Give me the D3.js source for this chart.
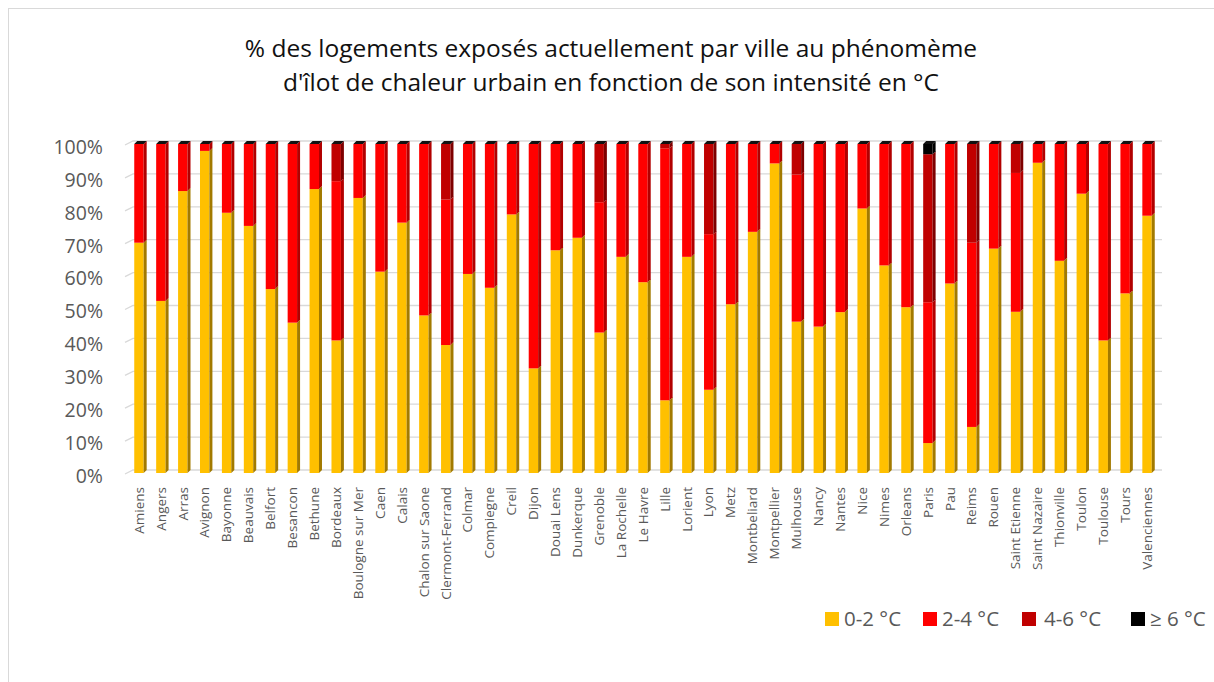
<!DOCTYPE html>
<html>
<head>
<meta charset="utf-8">
<script src="https://cdn.jsdelivr.net/npm/d3@7"></script>
<style>
  body { margin: 0; background: #fff; }
  svg { display: block; font-family: "Open Sans", sans-serif; }
</style>
</head>
<body>
<svg width="1214" height="682"></svg>
<script>

let cities = ["Amiens", "Angers", "Arras", "Avignon", "Bayonne", "Beauvais", "Belfort", "Besancon",
    "Bethune", "Bordeaux", "Boulogne sur Mer", "Caen", "Calais", "Chalon sur Saone", "Clermont-Ferrand",
    "Colmar", "Compiegne", "Creil", "Dijon", "Douai Lens", "Dunkerque", "Grenoble", "La Rochelle",
    "Le Havre", "Lille", "Lorient", "Lyon", "Metz", "Montbeliard", "Montpellier", "Mulhouse", "Nancy",
    "Nantes", "Nice", "Nimes", "Orleans", "Paris", "Pau", "Reims", "Rouen", "Saint Etienne",
    "Saint Nazaire", "Thionville", "Toulon", "Toulouse", "Tours", "Valenciennes"];

// % of housing per heat island intensity
let v02 = [70.0, 52.3, 85.7, 97.9, 79.1, 75.1, 55.9, 45.7, 86.3, 40.3, 83.6, 61.2, 76.1, 47.9, 38.9,
    60.5, 56.3, 78.6, 31.8, 67.7, 71.5, 42.7, 65.7, 58.0, 22.1, 65.7, 25.3, 51.3, 73.3, 94.1, 46.0, 44.5,
    48.9, 80.4, 63.1, 50.4, 9.1, 57.6, 14.0, 68.2, 49.0, 94.3, 64.5, 84.9, 40.3, 54.6, 78.2];
let v24 = [30.0, 47.7, 14.3, 2.1, 20.9, 24.9, 44.1, 54.3, 13.7, 48.4, 16.4, 38.8, 23.9, 52.1, 44.2,
    39.5, 43.7, 21.4, 68.2, 32.3, 28.5, 39.6, 34.3, 42.0, 76.6, 34.3, 47.3, 48.7, 26.7, 5.9, 44.7, 55.5,
    51.1, 19.6, 36.9, 49.6, 42.8, 42.4, 56.0, 31.8, 42.2, 5.7, 35.5, 15.1, 59.7, 45.4, 21.8];
let v46 = [0, 0, 0, 0, 0, 0, 0, 0, 0, 11.3, 0, 0, 0, 0, 16.9,
    0, 0, 0, 0, 0, 0, 17.7, 0, 0, 1.3, 0, 27.4, 0, 0, 0, 9.3, 0,
    0, 0, 0, 0, 45.0, 0, 30.0, 0, 8.8, 0, 0, 0, 0, 0, 0];
let v6 = [0, 0, 0, 0, 0, 0, 0, 0, 0, 0, 0, 0, 0, 0, 0,
    0, 0, 0, 0, 0, 0, 0, 0, 0, 0, 0, 0, 0, 0, 0, 0, 0,
    0, 0, 0, 0, 3.1, 0, 0, 0, 0, 0, 0, 0, 0, 0, 0];

let seriesNames = ["0-2 °C", "2-4 °C", "4-6 °C", "≥ 6 °C"];
let yTicks = [0, 10, 20, 30, 40, 50, 60, 70, 80, 90, 100];

let keys = ["a", "b", "c", "d"];
let rows = cities.map((c, i) => ({ city: c, a: v02[i], b: v24[i], c: v46[i], d: v6[i] }));

let front = d3.scaleOrdinal().domain(keys).range(["#FFC000", "#FF0000", "#C00000", "#000000"]);
let side = d3.scaleOrdinal().domain(keys).range(["#A27A00", "#B20000", "#7E0000", "#000000"]);

let svg = d3.select("svg");
let dx = 3, dy = 3;

let x = d3.scaleBand(cities, [128, 1158]).paddingInner(0.57).paddingOuter(0.285);
let y = d3.scaleLinear().domain([0, 100]).range([473, 144]);

// frame
svg.append("rect")
    .attr("x", 8.5).attr("y", 8.5)
    .attr("width", 1300).attr("height", 800)
    .attr("fill", "none").attr("stroke", "#d9d9d9");

// title
svg.append("text")
    .attr("x", 611).attr("y", 57)
    .attr("text-anchor", "middle")
    .style("font-size", "24.5px").attr("fill", "#111")
    .selectAll("tspan")
    .data(["% des logements exposés actuellement par ville au phénomème",
           "d'îlot de chaleur urbain en fonction de son intensité en °C"])
    .join("tspan")
        .attr("x", 611)
        .attr("dy", (d, i) => i ? 34 : 0)
        .text(d => d);

// gridlines with 3D wall
svg.append("g")
    .selectAll("path").data(yTicks)
    .join("path")
        .attr("d", d => `M125,${y(d) + 1}L133,${y(d) - 3}L1162,${y(d) - 3}`)
        .attr("fill", "none")
        .attr("stroke", "#d9d9d9")
        .attr("stroke-width", 1.3);

// y labels
svg.append("g")
    .selectAll("text").data(yTicks)
    .join("text")
        .attr("x", 103)
        .attr("y", d => y(d) + 3)
        .attr("dy", "0.35em")
        .attr("text-anchor", "end")
        .style("font-size", "19.5px")
        .attr("fill", "#595959")
        .text(d => d + "%");

// stacked 3D bars
let stacked = d3.stack().keys(keys)(rows);
let bw = x.bandwidth();

let layer = svg.append("g")
    .selectAll("g").data(stacked)
    .join("g");

layer.selectAll("rect")
    .data(s => s.map(d => ({ key: s.key, d })))
    .join("rect")
        .attr("x", o => x(o.d.data.city))
        .attr("y", o => y(o.d[1]))
        .attr("width", bw)
        .attr("height", o => y(o.d[0]) - y(o.d[1]))
        .attr("fill", o => front(o.key));

layer.selectAll("path.side")
    .data(s => s.map(d => ({ key: s.key, d })).filter(o => o.d[1] > o.d[0]))
    .join("path")
        .attr("class", "side")
        .attr("d", o => {
            let x1 = x(o.d.data.city) + bw, t = y(o.d[1]), b = y(o.d[0]);
            return `M${x1},${t}L${x1 + dx},${t - dy}L${x1 + dx},${b - dy}L${x1},${b}Z`;
        })
        .attr("fill", o => side(o.key));

// top faces
svg.append("g")
    .selectAll("path").data(rows)
    .join("path")
        .attr("d", d => {
            let x0 = x(d.city), t = y(100);
            return `M${x0},${t}L${x0 + dx},${t - dy}L${x0 + bw + dx},${t - dy}L${x0 + bw},${t}Z`;
        })
        .attr("fill", "#111");

// x labels
svg.append("g")
    .selectAll("text").data(cities)
    .join("text")
        .attr("transform", d => `translate(${x(d) + bw / 2},487) rotate(-90)`)
        .attr("dy", "0.35em")
        .attr("text-anchor", "end")
        .style("font-size", "13.5px")
        .attr("fill", "#595959")
        .text(d => d);

// legend
let legX = [825, 923, 1022, 1131];
let legend = svg.append("g")
    .selectAll("g").data(keys)
    .join("g")
        .attr("transform", (d, i) => `translate(${legX[i]},612)`);

legend.append("rect")
    .attr("width", 14).attr("height", 14)
    .attr("fill", d => front(d));

legend.append("text")
    .attr("x", (d, i) => i == 2 ? 22 : 19)
    .attr("y", 7)
    .attr("dy", "0.35em")
    .style("font-size", "20.5px")
    .attr("fill", "#595959")
    .text((d, i) => seriesNames[i]);

</script>
</body>
</html>
